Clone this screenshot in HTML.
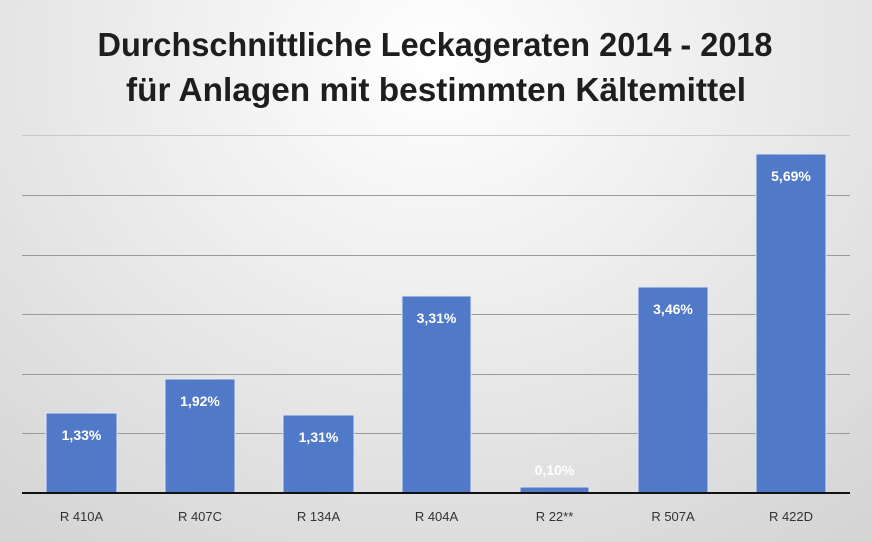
<!DOCTYPE html>
<html><head><style>
html,body{margin:0;padding:0;}
body{width:872px;height:542px;overflow:hidden;background:radial-gradient(ellipse 700px 600px at 436px 60px,#ffffff 0%,#ececec 45%,#d4d4d4 100%);}
svg{display:block;font-family:"Liberation Sans",sans-serif;}
</style></head><body>
<svg width="872" height="542" viewBox="0 0 872 542">
<g font-weight="bold" font-size="33" fill="#1e1e1e" text-anchor="middle">
<text x="435" y="56" textLength="675" lengthAdjust="spacingAndGlyphs">Durchschnittliche Leckageraten 2014 - 2018</text>
<text x="436" y="101" textLength="620" lengthAdjust="spacingAndGlyphs">für Anlagen mit bestimmten Kältemittel</text>
</g>
<g stroke="#9a9a9a" stroke-width="1">
<line x1="22" x2="850" y1="135.5" y2="135.5" stroke="#c8c8c8"/>
<line x1="22" x2="850" y1="195.5" y2="195.5"/>
<line x1="22" x2="850" y1="255.5" y2="255.5"/>
<line x1="22" x2="850" y1="314.5" y2="314.5"/>
<line x1="22" x2="850" y1="374.5" y2="374.5"/>
<line x1="22" x2="850" y1="433.5" y2="433.5"/>
</g>
<g fill="#5079c8" stroke="#dfe6f3" stroke-width="1">
<rect x="46" y="413" width="71" height="80"/>
<rect x="165" y="379" width="70" height="114"/>
<rect x="283" y="415" width="71" height="78"/>
<rect x="402" y="296" width="69" height="197"/>
<rect x="520" y="487" width="69" height="6"/>
<rect x="638" y="287" width="70" height="206"/>
<rect x="756" y="154" width="70" height="339"/>
</g>
<line x1="22" x2="850" y1="493" y2="493" stroke="#111" stroke-width="2"/>
<g font-weight="bold" font-size="14" fill="#fff" text-anchor="middle">
<text x="81.5" y="440">1,33%</text>
<text x="200" y="406">1,92%</text>
<text x="318.5" y="442">1,31%</text>
<text x="436.5" y="323">3,31%</text>
<text x="554.5" y="475">0,10%</text>
<text x="673" y="314">3,46%</text>
<text x="791" y="181">5,69%</text>
</g>
<g font-size="13" fill="#333" text-anchor="middle">
<text x="81.5" y="521">R 410A</text>
<text x="200" y="521">R 407C</text>
<text x="318.5" y="521">R 134A</text>
<text x="436.5" y="521">R 404A</text>
<text x="554.5" y="521">R 22**</text>
<text x="673" y="521">R 507A</text>
<text x="791" y="521">R 422D</text>
</g>
</svg>
</body></html>
